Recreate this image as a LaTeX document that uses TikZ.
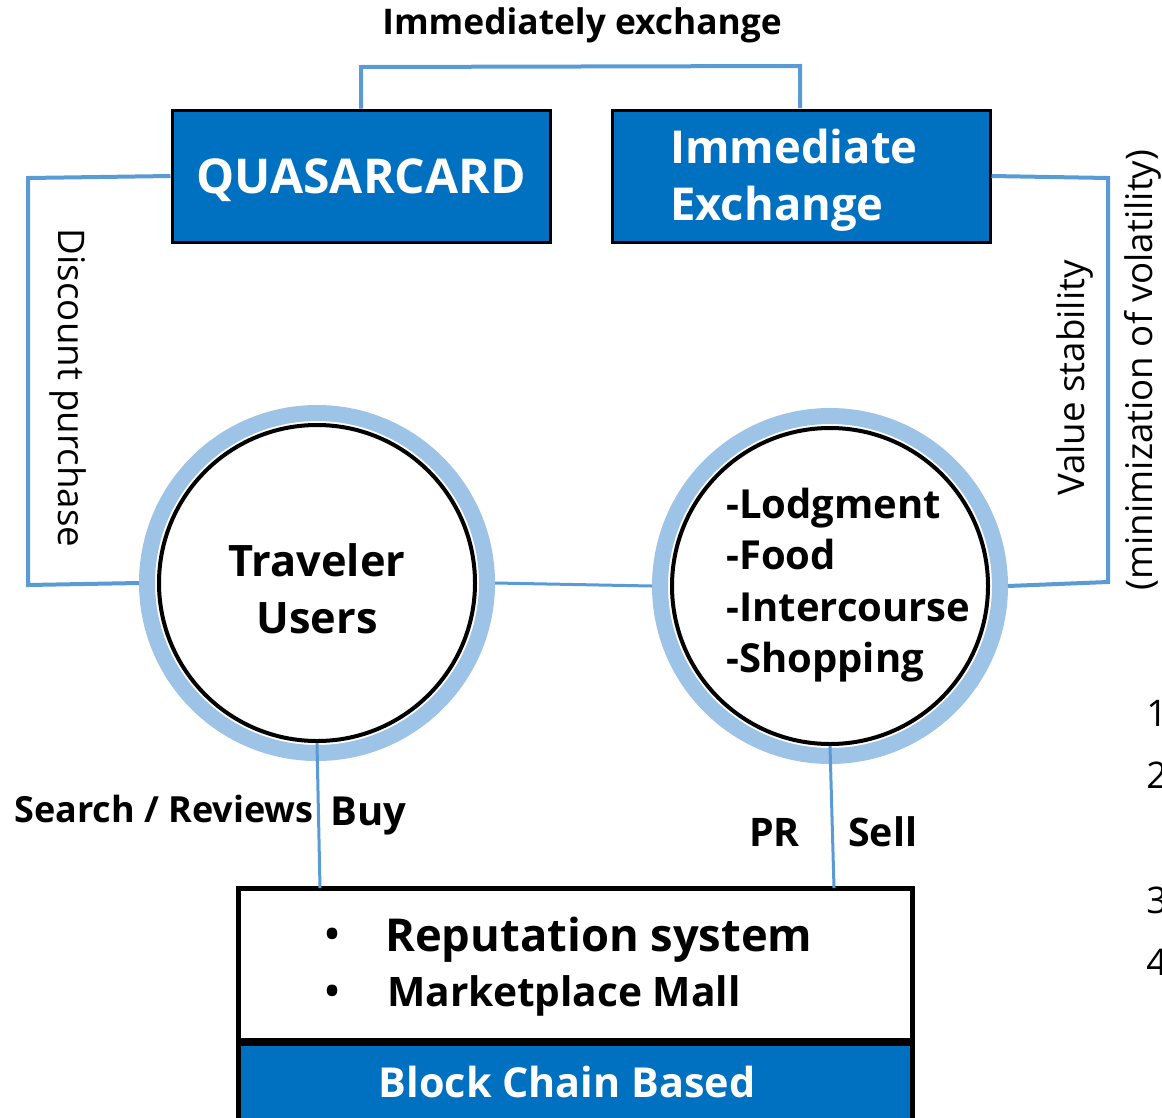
\documentclass[tikz,border=0pt]{standalone}
\usepackage{fontspec}
\setmainfont{Open Sans}
\definecolor{boxblue}{HTML}{0070C0}
\definecolor{lineblue}{HTML}{5B9BD5}
\definecolor{ringblue}{HTML}{9DC3E6}
\tikzset{
  conn/.style={draw=lineblue, line width=3pt},
  thinconn/.style={draw=lineblue, line width=2.25pt},
  bluebox/.style={draw=black, fill=boxblue, line width=2.25pt, minimum width=283.5pt, minimum height=99pt, inner sep=0pt, text=white, font=\bfseries\fontsize{36}{42}\selectfont},
  ring/.style={circle, draw=ringblue, line width=12pt, minimum size=255pt, inner sep=0pt},
  disc/.style={circle, draw=black, fill=white, line width=3pt, minimum size=237pt, inner sep=0pt},
  lbl/.style={font=\bfseries\fontsize{27}{32}\selectfont, inner sep=0pt},
  side/.style={font=\fontsize{27.5}{32}\selectfont, inner sep=0pt},
  big/.style={font=\bfseries\fontsize{32.5}{43}\selectfont, inner sep=0pt, align=left},
}
\begin{document}
\begin{tikzpicture}[x=0.75pt,y=-0.75pt]
\useasboundingbox (0,0) rectangle (1162,1117);
% top boxes
\node[bluebox, text height=25.7pt, text depth=0pt] (qc) at (361,176) {QUASARCARD};
\node[bluebox] (ie) at (801,176) {};
\node[anchor=west, align=left, text=white, font=\bfseries\fontsize{34}{43}\selectfont, inner sep=0pt] (iet) at (670,180) {Immediate\\Exchange};
\node[lbl, font=\bfseries\fontsize{26.5}{32}\selectfont] (top) at (582,25) {Immediately exchange};
\draw[conn] (qc.north) -- (361,67) -- (800,66) -- (800,108);
% circles
\node[ring] (tuR) at (317,583) {};
\node[disc] (tu) at (317,583) {};
\node[big, align=center] (tut) at (317,589) {Traveler\\Users};
\node[ring] (spR) at (830,586) {};
\node[disc] (sp) at (830,586) {};
\node[big, font=\bfseries\fontsize{30}{38.5}\selectfont, anchor=west] (spt) at (726,585) {-Lodgment\\-Food\\-Intercourse\\-Shopping};
% side connectors
\draw[conn] (qc.west) -- (28,178) -- (28,585) -- (tuR.west);
\draw[conn] (ie.east) -- (1108,178) -- (1108,582) -- (spR.east);
\draw[thinconn] (tuR.east) -- (spR.west);
\node[side, rotate=-90] (dp) at (68,388) {Discount purchase};
\node[side, rotate=90] (vs) at (1075,378) {Value stability};
\node[side, rotate=90] (mv) at (1143,370) {(minimization of volatility)};
% bottom box
\node[draw=black, fill=white, line width=3.75pt, minimum width=505.5pt, minimum height=114pt, inner sep=0pt] (bx) at (575,964) {};
\node[draw=black, fill=boxblue, line width=3.75pt, minimum width=505.5pt, minimum height=58.5pt, inner sep=0pt, text=white, font=\bfseries\fontsize{31}{36}\selectfont] (bc) at (575,1082) {\hspace*{-12pt}Block Chain Based};
\node[font=\bfseries\fontsize{28}{32}\selectfont, inner sep=0pt] (b1) at (333,938) {•};
\node[font=\bfseries\fontsize{28}{32}\selectfont, inner sep=0pt] (b2) at (333,995) {•};
\node[font=\bfseries\fontsize{34}{40}\selectfont, anchor=west, inner sep=0pt] (rs) at (385,940) {Reputation system};
\node[font=\bfseries\fontsize{30.5}{36}\selectfont, anchor=west, inner sep=0pt] (mm) at (387,996) {Marketplace Mall};
% vertical connectors
\coordinate (e1) at (320,888);
\coordinate (e2) at (834,888);
\draw[thinconn] (tu.south) -- (e1);
\draw[thinconn] (sp.south) -- (e2);
\node[lbl, anchor=west] (sr) at (14,809) {Search / Reviews};
\node[lbl, font=\bfseries\fontsize{30}{36}\selectfont, anchor=west] (buy) at (330,816) {Buy};
\node[lbl, font=\bfseries\fontsize{29.5}{36}\selectfont, anchor=west] (pr) at (749,832) {PR};
\node[lbl, font=\bfseries\fontsize{29.5}{36}\selectfont, anchor=west] (sell) at (848,832) {Sell};
% cut-off list numbers (cropped at the right edge, as in the reference)
\node[side, anchor=west] (n1) at (1146,713) {1};
\node[side, anchor=west] (n2) at (1146,775) {2};
\node[side, anchor=west] (n3) at (1146,900) {3};
\node[side, anchor=west] (n4) at (1146,962) {4};
\end{tikzpicture}
\end{document}
